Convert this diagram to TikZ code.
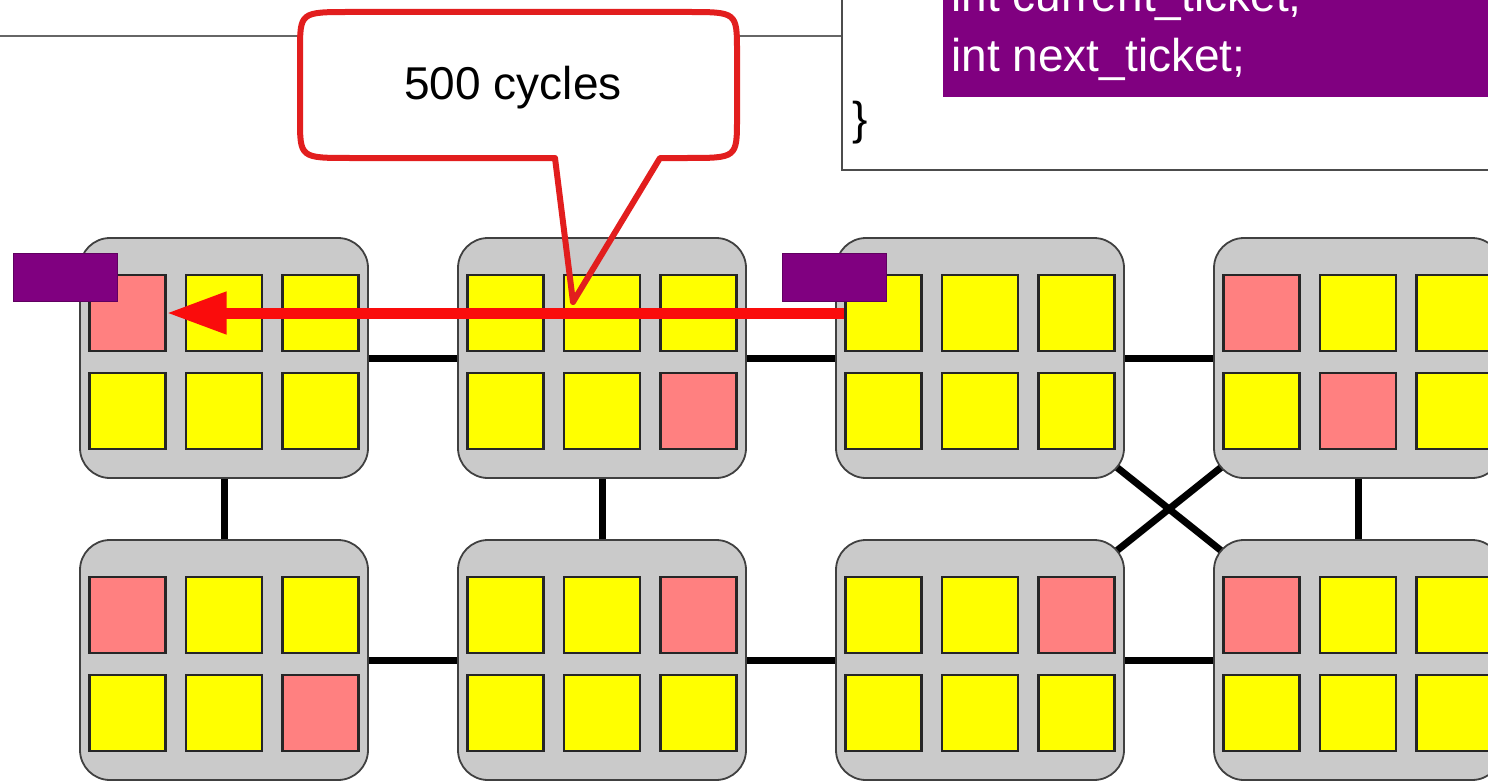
\documentclass[tikz,border=0pt]{standalone}
\usepackage{fontspec}
\setmainfont{Liberation Sans}
\usetikzlibrary{arrows.meta,backgrounds}
\definecolor{chipgray}{RGB}{202,202,202}
\definecolor{cellyel}{RGB}{255,255,0}
\definecolor{cellpink}{RGB}{255,128,128}
\definecolor{tagpurple}{RGB}{128,0,128}
\definecolor{calred}{RGB}{226,30,30}
\definecolor{arrred}{RGB}{250,12,12}
\begin{document}
\begin{tikzpicture}[x=0.5pt,y=-0.5pt,
  chip/.style={draw=black!75,line width=0.9pt,fill=chipgray,rounded corners=15pt,minimum width=144pt,minimum height=120pt,inner sep=0pt},
  cell/.style={draw=black!85,line width=1.2pt,minimum width=38pt,minimum height=38pt,inner sep=0pt},
  yl/.style={cell,fill=cellyel},
  pk/.style={cell,fill=cellpink},
  link/.style={line width=3.5pt,black},
  tag/.style={fill=tagpurple,draw=tagpurple!75!black,line width=0.5pt,minimum width=52pt,minimum height=24pt,inner sep=0pt},
  txt/.style={font=\fontsize{23}{27}\selectfont,inner sep=0pt},
  callout/.style={line width=3pt,draw=calred,line join=round},
]
\useasboundingbox (0,0) rectangle (1488,781);
\clip (0,0) rectangle (1488,781);

% chips with their cells
\foreach \n/\cx/\cy/\a/\b/\c/\d/\e/\f in {
 c11/224/358/pk/yl/yl/yl/yl/yl,
 c12/602/358/yl/yl/yl/yl/yl/pk,
 c13/980/358/yl/yl/yl/yl/yl/yl,
 c14/1358/358/pk/yl/yl/yl/pk/yl,
 c21/224/660/pk/yl/yl/yl/yl/pk,
 c22/602/660/yl/yl/pk/yl/yl/yl,
 c23/980/660/yl/yl/pk/yl/yl/yl,
 c24/1358/660/pk/yl/yl/yl/yl/yl}
{
 \node[chip] (\n) at (\cx,\cy) {};
 \node[\a] (\n-1) at (\cx-96.5,\cy-45) {};
 \node[\b] (\n-2) at (\cx,\cy-45) {};
 \node[\c] (\n-3) at (\cx+96.5,\cy-45) {};
 \node[\d] (\n-4) at (\cx-96.5,\cy+53) {};
 \node[\e] (\n-5) at (\cx,\cy+53) {};
 \node[\f] (\n-6) at (\cx+96.5,\cy+53) {};
}

\begin{pgfonlayer}{background}
 \draw[black!60,line width=1pt] (0,36) -- (842,36);
 \fill[white] (350,12) -- (687,12) .. controls (737,12) .. (737,52) -- (737,118) .. controls (737,158) .. (687,158) -- (660,158) -- (573,302) -- (555,158) -- (350,158) .. controls (300,158) .. (300,118) -- (300,52) .. controls (300,12) .. (350,12) -- cycle;
 \draw[link] (c11.center) -- (c12.center);
 \draw[link] (c12.center) -- (c13.center);
 \draw[link] (c13.center) -- (c14.center);
 \draw[link] (c21.center) -- (c22.center);
 \draw[link] (c22.center) -- (c23.center);
 \draw[link] (c23.center) -- (c24.center);
 \draw[link] (c11.center) -- (c21.center);
 \draw[link] (c12.center) -- (c22.center);
 \draw[link] (c14.center) -- (c24.center);
 \draw[link] (c13.center) -- (c24.center);
 \draw[link] (c14.center) -- (c23.center);
\end{pgfonlayer}

% code box
\draw[black!70,line width=1pt,fill=white] (842,-20) rectangle (1530,170);
\fill[tagpurple] (943,-20) rectangle (1530,97);
\node[txt,white,anchor=base west] (l1) at (951,12) {int current\_ticket;};
\node[txt,white,anchor=base west] (l2) at (951,72) {int next\_ticket;};
\node[txt,anchor=base west] (l3) at (852,134) {\}};

% transfer arrow
\draw[arrred,line width=5.5pt,-{Triangle[length=30pt,width=20pt]}] (c13-1.west) -- (c11-1.east);

% lock tags
\node[tag] (tagA) at (65.5,277.5) {};
\node[tag] (tagB) at (834,277.5) {};

% callout
\draw[callout] (350,12) -- (687,12) .. controls (737,12) .. (737,52) -- (737,118) .. controls (737,158) .. (687,158) -- (660,158) -- (573,302) -- (555,158) -- (350,158) .. controls (300,158) .. (300,118) -- (300,52) .. controls (300,12) .. (350,12) -- cycle;
\node[txt,anchor=base] (lbl) at (513,100) {500 cycles};
\end{tikzpicture}
\end{document}
